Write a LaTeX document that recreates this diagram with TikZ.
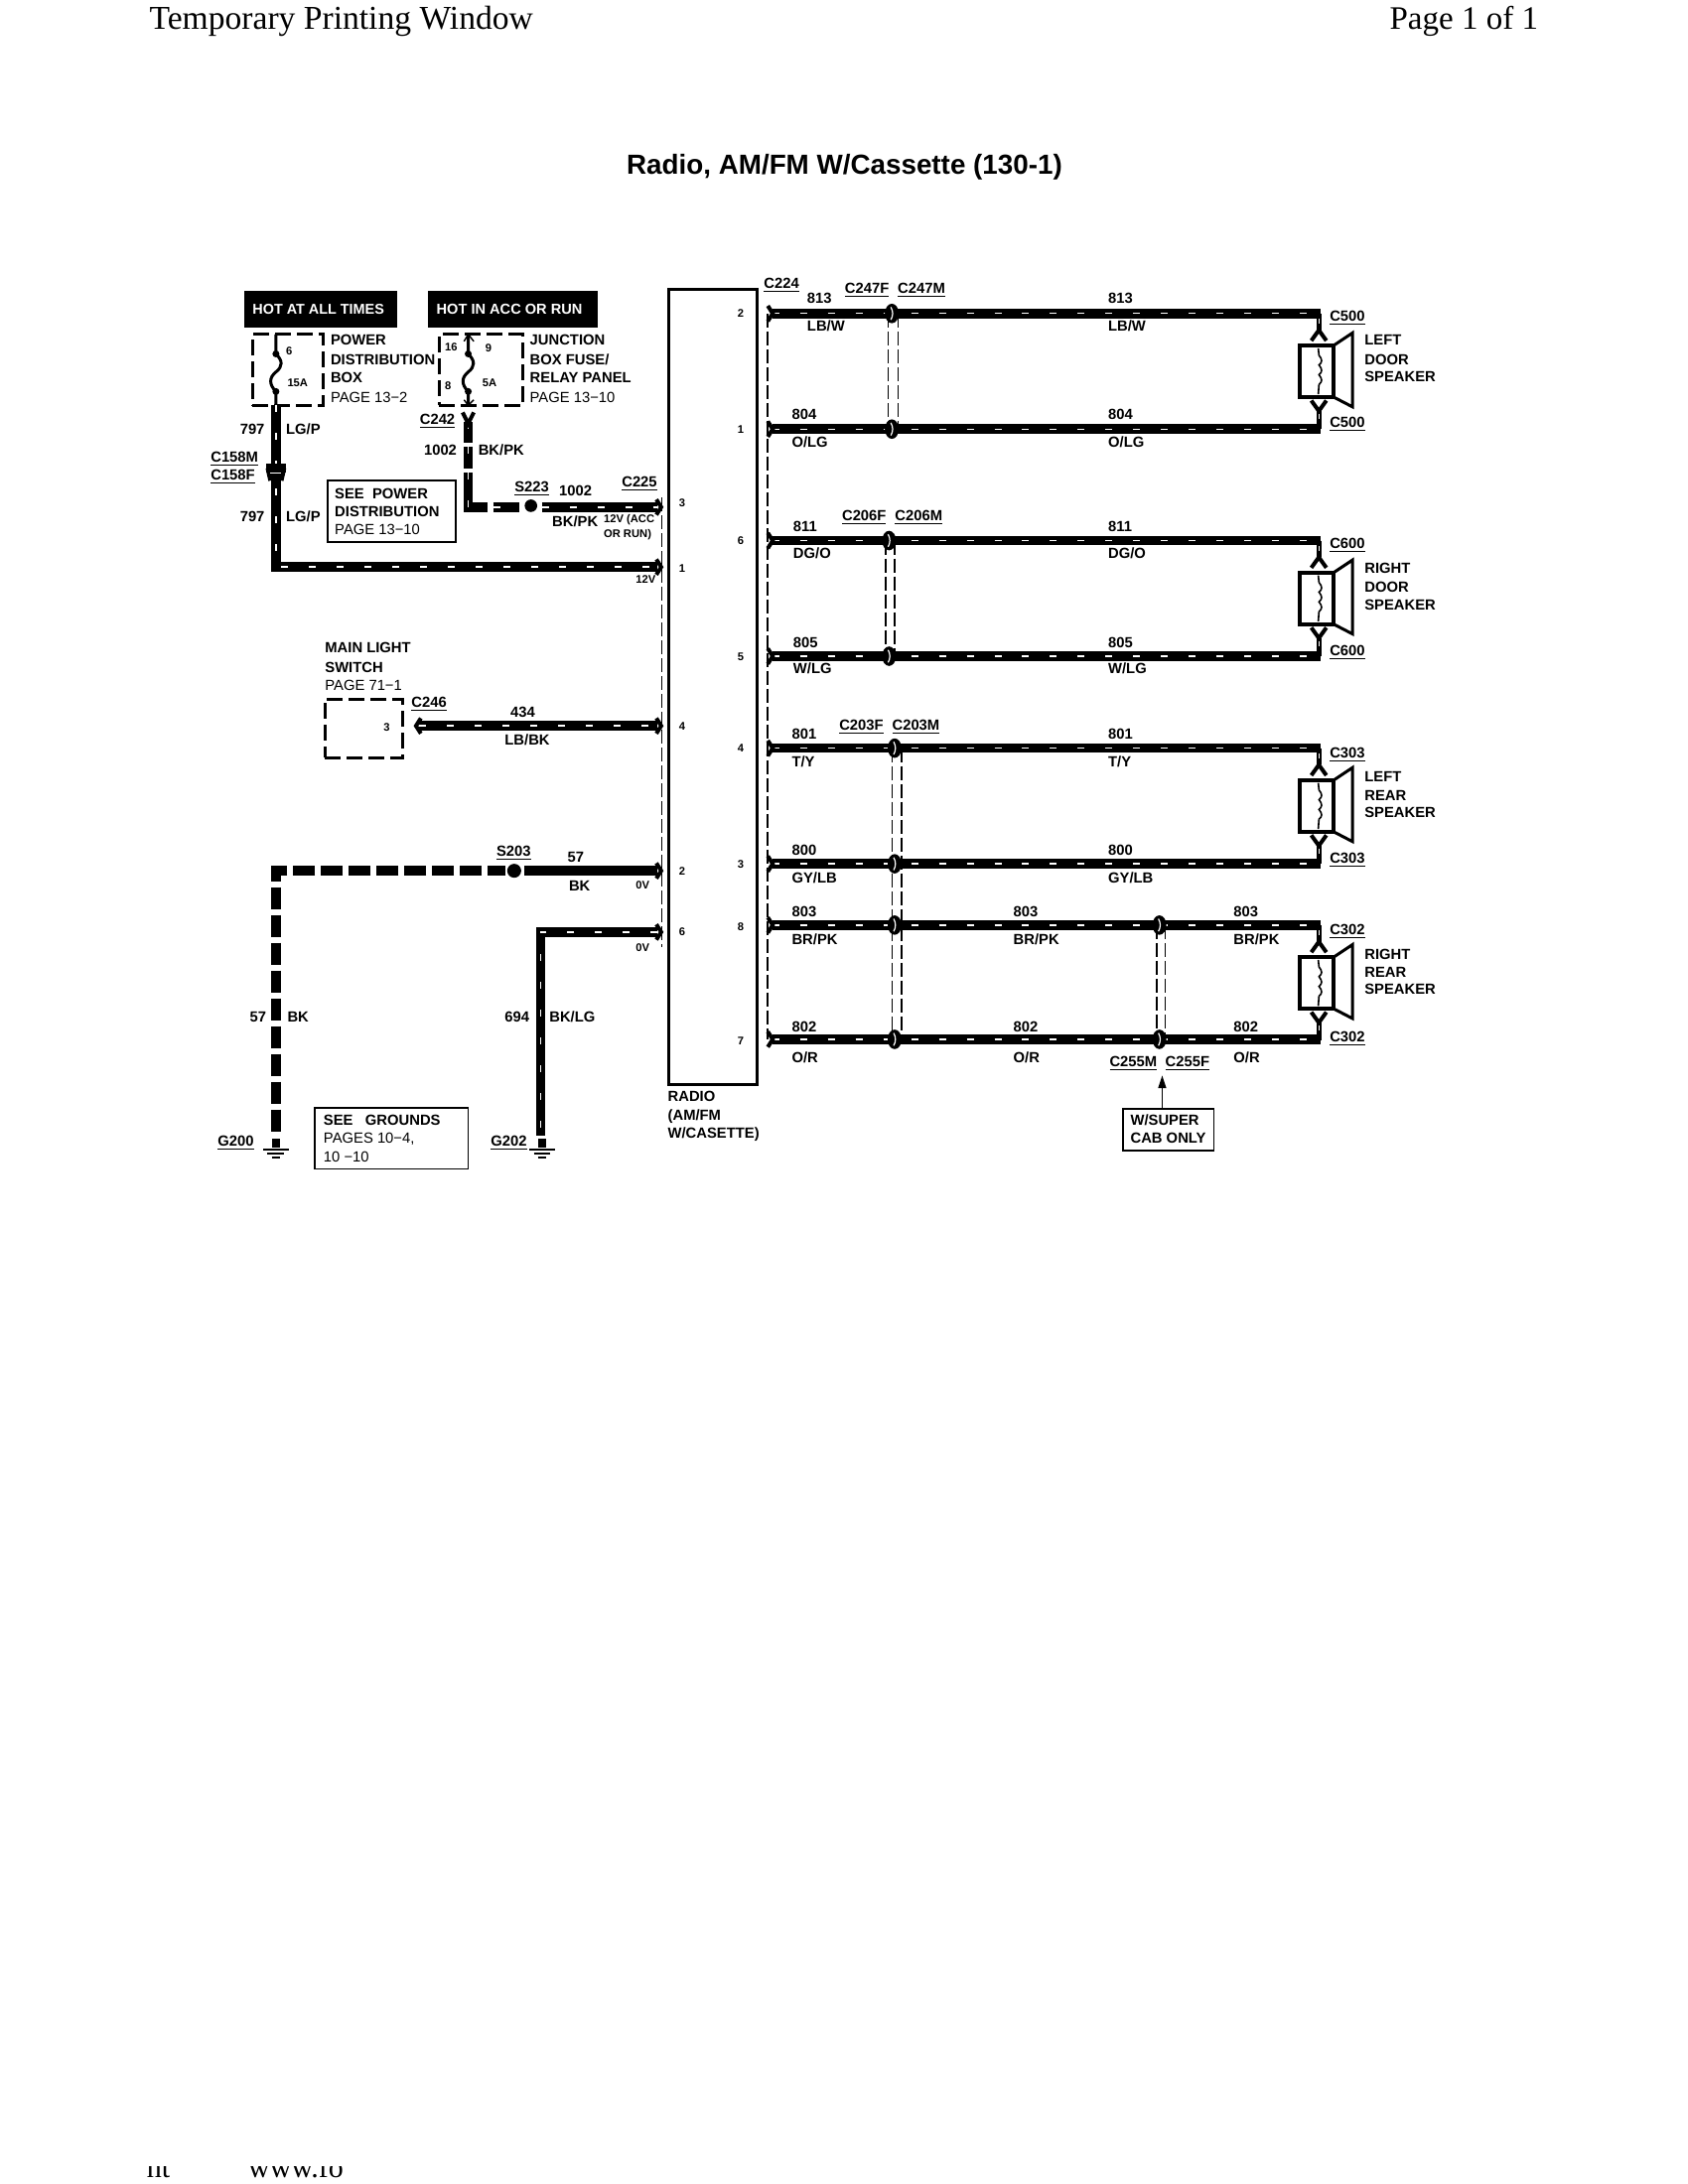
\documentclass[tikz,border=0pt]{standalone}
\usepackage{fontspec}
\setmainfont{Liberation Sans}
\newfontfamily\hdrfont{Liberation Serif}
\newcounter{lbl}
\def\ux{.70173pt}
\tikzset{
  labb/.style={inner sep=0pt,anchor=west,text height=5.3pt,text depth=0pt,font=\fontsize{7.4}{8}\selectfont\bfseries},
  labr/.style={inner sep=0pt,anchor=west,text height=5.3pt,text depth=0pt,font=\fontsize{7.4}{8}\selectfont},
  labs/.style={inner sep=0pt,anchor=west,text height=4pt,text depth=0pt,font=\fontsize{5.6}{6}\selectfont\bfseries},
  wire/.style={line width=4.8pt,black,line join=miter},
  gwire/.style={line width=4.8pt,black,line join=miter,dash pattern=on 11pt off 3pt,dash phase=2pt},
  tracer/.style={white,line width=.7pt,dash pattern=on 3.5pt off 10.5pt},
  thindash/.style={line width=.8pt,black,dash pattern=on 7pt off 2pt},
  boxdash/.style={line width=1.5pt,black,dash pattern=on 8pt off 3pt},
  thinbox/.style={draw,line width=.8pt,black,fill=white},
  hotbox/.style={fill=black,inner sep=0pt},
  thinw/.style={line width=1.5pt,black},
  forkl/.style={line width=2pt,black,line join=miter},
}
\newcommand{\LB}[3]{\stepcounter{lbl}\node[labb] (t\arabic{lbl}) at (#1,#2) {#3};}
\newcommand{\LR}[3]{\stepcounter{lbl}\node[labr] (t\arabic{lbl}) at (#1,#2) {#3};}
\newcommand{\LS}[3]{\stepcounter{lbl}\node[labs] (t\arabic{lbl}) at (#1,#2) {#3};}
\newcommand{\LU}[3]{\stepcounter{lbl}\node[labb] (t\arabic{lbl}) at (#1,#2) {\underline{#3}};}
\newcommand{\traced}[1]{\draw[wire] #1; \draw[tracer] #1;}
\newcommand{\wfork}[2]{\draw[forkl] (#1-2,#2-5.5) -- (#1+1.5,#2) -- (#1-2,#2+5.5);}
\newcommand{\wforkr}[2]{\draw[forkl] (#1+2,#2-5.5) -- (#1-1.5,#2) -- (#1+2,#2+5.5);}
\newcommand{\conn}[2]{\fill (#1,#2) ellipse (5 and 7);
  \draw[white,line width=.6pt] (#1-.7,#2-4.5) .. controls (#1+1,#2-1.5) and (#1+1,#2+1.5) .. (#1-.7,#2+4.5);}
\newcommand{\speaker}[1]{%
  \begin{scope}[shift={(0,#1)}]
    \draw[line width=2pt,black,line join=miter] (933,23) rectangle (957,60);
    \draw[line width=1.5pt,black,line join=miter] (957,23) -- (970.5,14) -- (970.5,67) -- (957,60);
    \draw[line width=.8pt,black] (946,25) -- (946.5,30) .. controls (949,33) and (949,35) .. (946.5,37)
      .. controls (949,40) and (949,42) .. (946.5,44) .. controls (949,47) and (949,49) .. (946.5,51) -- (946,58);
    \draw[forkl] (941,19.5) -- (946.4,12) -- (951.8,19.5);
    \draw[forkl] (941,62.5) -- (946.4,70) -- (951.8,62.5);
    \draw[line width=2.5pt,black] (946.4,0) -- (946.4,12);
    \draw[line width=2.5pt,black] (946.4,70) -- (946.4,83);
    \draw[white,line width=.6pt,dash pattern=on 2.5pt off 2pt] (946.4,4) -- (946.4,10);
    \draw[white,line width=.6pt,dash pattern=on 2.5pt off 2pt] (946.4,72) -- (946.4,78);
  \end{scope}}
\begin{document}
\begin{tikzpicture}[x=\ux,y=-\ux]
\useasboundingbox[fill=white] (0,0) rectangle (1211.3,1567.6);
% page header
\node[inner sep=0pt,anchor=west,font=\fontsize{16.8}{20}\selectfont\hdrfont] (hdrL) at (107,15) {Temporary Printing Window};
\node[inner sep=0pt,anchor=east,font=\fontsize{16.5}{20}\selectfont\hdrfont] (hdrR) at (1104,15) {Page 1 of 1};
\node[inner sep=0pt,font=\fontsize{13.9}{16}\selectfont\bfseries] (title) at (606,120) {Radio, AM/FM W/Cassette (130-1)};
% radio
\node[draw,line width=1.5pt,minimum width=63.4*\ux,minimum height=570.7*\ux,inner sep=0pt] (radio) at (511.6,493.1) {};
\LB{479}{787}{RADIO}\LB{479}{800}{(AM/FM}\LB{479}{813}{W/CASETTE)}
% radio pins
\LS{529}{225}{2}\LS{529}{308}{1}\LS{529}{388}{6}\LS{529}{471}{5}\LS{529}{537}{4}\LS{529}{620}{3}\LS{529}{665}{8}\LS{529}{747}{7}
\LS{487}{361}{3}\LS{487}{408}{1}\LS{487}{521}{4}\LS{487}{625}{2}\LS{487}{669}{6}
% hot boxes
\node[hotbox,minimum width=110*\ux,minimum height=26*\ux] (hot1) at (230,222) {};
\node[hotbox,minimum width=122*\ux,minimum height=26*\ux] (hot2) at (368,222) {};
\node[labb,text=white,font=\fontsize{7.2}{8}\selectfont\bfseries] (hot1t) at (181,222) {HOT AT ALL TIMES};
\node[labb,text=white,font=\fontsize{7.3}{8}\selectfont\bfseries] (hot2t) at (313,222) {HOT IN ACC OR RUN};
% power distribution box
\node[draw,boxdash,minimum width=51*\ux,minimum height=51*\ux,inner sep=0pt] (pdb) at (206.5,265.5) {};
\node[draw,boxdash,minimum width=60*\ux,minimum height=51*\ux,inner sep=0pt] (jbx) at (345,265.5) {};
\LB{237}{244}{POWER}\LB{237}{258}{DISTRIBUTION}\LB{237}{271}{BOX}\LR{237}{285}{PAGE 13−2}
\LB{380}{244}{JUNCTION}\LB{380}{258}{BOX FUSE/}\LB{380}{271}{RELAY PANEL}\LR{380}{285}{PAGE 13−10}
% fuses
\coordinate (f1a) at (198,240); \coordinate (f1b) at (198,254); \coordinate (f1c) at (198,281); \coordinate (f1d) at (198,291);
\draw[thinw] (f1a) -- (f1b) .. controls (203,259) and (203,263) .. (198,267) .. controls (193,271) and (193,276) .. (f1c) -- (f1d);
\fill (f1b) circle (2.5); \fill (f1c) circle (2.5);
\LS{205}{252}{6}\LS{206}{275}{15A}
\coordinate (f2a) at (336,240); \coordinate (f2b) at (336,254); \coordinate (f2c) at (336,281); \coordinate (f2d) at (336,291);
\draw[thinw] (f2a) -- (f2b) .. controls (341,259) and (341,263) .. (336,267) .. controls (331,271) and (331,276) .. (f2c) -- (f2d);
\fill (f2b) circle (2.5); \fill (f2c) circle (2.5);
\draw[line width=.7pt] (333,245) -- (336,240) -- (340,245);
\draw[line width=.7pt] (333,287) -- (336,291) -- (340,287);
\LS{319}{249}{16}\LS{348}{250}{9}\LS{319}{277}{8}\LS{346}{275}{5A}
% wire 797
\coordinate (w797a) at (198,291); \coordinate (w797b) at (198,407); \coordinate (w797c) at (472,407);
\traced{(w797a) -- (w797b) -- (w797c)}
\wfork{473}{407}
\fill (191,333) rectangle (205,339);
\draw[forkl] (192,336) -- (194,345); \draw[forkl] (204,336) -- (202,345);
\draw[white,line width=.8pt] (194,339.5) -- (202,339.5);
\LB{172}{308}{797}\LB{205}{308}{LG/P}\LB{172}{371}{797}\LB{205}{371}{LG/P}
\LU{151}{328}{C158M}\LU{151}{341}{C158F}
% wire 1002
\coordinate (w1a) at (336,303); \coordinate (w1b) at (336,317.5);
\coordinate (w2a) at (336,320.5); \coordinate (w2b) at (336,336);
\coordinate (w3a) at (336,339); \coordinate (w3b) at (336,364); \coordinate (w3c) at (350,364);
\coordinate (w4a) at (354,364); \coordinate (w4b) at (373,364);
\coordinate (w5a) at (389,364); \coordinate (w5b) at (472,364);
\traced{(w1a) -- (w1b)}\traced{(w2a) -- (w2b)}\traced{(w3a) -- (w3b) -- (w3c)}\traced{(w4a) -- (w4b)}\traced{(w5a) -- (w5b)}
\node[circle,fill=black,inner sep=0pt,minimum size=9*\ux] (s223) at (381,363) {};
\draw[forkl] (332,296) -- (336,304) -- (340,296);
\wfork{473}{364}
\LU{301}{301}{C242}\LB{304}{323}{1002}\LB{343}{323}{BK/PK}
\LU{369}{349}{S223}\LB{401}{352}{1002}\LU{446}{346}{C225}\LB{396}{374}{BK/PK}
\LS{433}{372}{12V (ACC}\LS{433}{383}{OR RUN)}\LS{456}{416}{12V}
% see power
\node[thinbox,minimum width=92*\ux,minimum height=44*\ux,inner sep=0pt] (seep) at (281,367) {};
\LB{240}{354}{SEE\ \ POWER}\LB{240}{367}{DISTRIBUTION}\LR{240}{380}{PAGE 13−10}
% radio left dashed bus
\coordinate (busa) at (475,357); \coordinate (busb) at (475,680);
\draw[thindash] (busa) -- (busb);
% main light switch
\LB{233}{465}{MAIN LIGHT}\LB{233}{479}{SWITCH}\LR{233}{492}{PAGE 71−1}
\node[draw,boxdash,minimum width=56*\ux,minimum height=42*\ux,inner sep=0pt] (mls) at (261,523) {};
\LS{275}{522}{3}
\coordinate (w434a) at (301,521); \coordinate (w434b) at (472,521);
\traced{(w434a) -- (w434b)}
\wforkr{300}{521}\wfork{473}{521}
\LU{295}{504}{C246}\LB{366}{511}{434}\LB{362}{531}{LB/BK}
% wire 57
\coordinate (g57a) at (472,625); \coordinate (g57b) at (376,625);
\coordinate (g57c) at (363,625); \coordinate (g57d) at (198,625); \coordinate (g57e) at (198,815);
\draw[wire] (g57a) -- (g57b);
\draw[gwire] (g57c) -- (g57d) -- (g57e);
\node[circle,fill=black,inner sep=0pt,minimum size=10*\ux] (s203) at (369,625) {};
\wfork{473}{625}
\LU{356}{611}{S203}\LB{407}{615}{57}\LB{408}{636}{BK}\LS{456}{635}{0V}
\LB{179}{730}{57}\LB{206}{730}{BK}
\LU{156}{819}{G200}
% wire 694
\coordinate (w694a) at (472,669); \coordinate (w694b) at (388,669); \coordinate (w694c) at (388,815);
\traced{(w694a) -- (w694b) -- (w694c)}
\wfork{473}{669}
\LS{456}{680}{0V}\LB{362}{730}{694}\LB{394}{730}{BK/LG}\LU{352}{819}{G202}
% grounds
\foreach \gx in {198,389}{
  \fill (\gx-3,817) rectangle (\gx+3,824);
  \draw[line width=.8pt] (\gx-9,825) -- (\gx+9,825);
  \draw[line width=.8pt] (\gx-6,828) -- (\gx+6,828);
  \draw[line width=.8pt] (\gx-3,831) -- (\gx+3,831);
}
\node[thinbox,minimum width=110*\ux,minimum height=44*\ux,inner sep=0pt] (seeg) at (281,817) {};
\LB{232}{804}{SEE\ \ \ GROUNDS}\LR{232}{817}{PAGES 10−4,}\LR{232}{830}{10 −10}
% right-side wires
\foreach \n/\y in {a/225,b/308,c/388,d/471,e/537,f/620,g/664,h/746}{
  \coordinate (l\n) at (554,\y); \coordinate (r\n) at (948,\y);
  \coordinate (p\n) at (551,\y);
  \traced{(l\n) -- (r\n)}
  \wfork{553}{\y}
}
\draw[thindash] (pa) -- (ph);
% double dashed cross links
\newcommand{\dlink}[4]{\draw[thindash,line width=.7pt] (#1,#3) -- (#1,#4); \draw[thindash,line width=.7pt] (#2,#3) -- (#2,#4);}
\dlink{637.5}{644.5}{225}{308}
\dlink{635.5}{642}{388}{471}
\dlink{640}{647}{537}{746}
\dlink{830}{836}{664}{746}
\conn{640}{225}\conn{640}{308}\conn{638}{388}\conn{638}{471}\conn{642}{537}\conn{642}{620}\conn{642}{664}\conn{642}{746}\conn{832}{664}\conn{832}{746}
% speakers
\speaker{225}\speaker{388}\speaker{537}\speaker{664}
% labels row 1
\LU{548}{203}{C224}\LB{579}{214}{813}\LU{606}{207}{C247F}\LU{644}{207}{C247M}\LB{795}{214}{813}
\LB{579}{234}{LB/W}\LB{795}{234}{LB/W}\LU{954}{227}{C500}
\LB{979}{244}{LEFT}\LB{979}{258}{DOOR}\LB{979}{270}{SPEAKER}
\LB{568}{297}{804}\LB{795}{297}{804}\LB{568}{317}{O/LG}\LB{795}{317}{O/LG}\LU{954}{303}{C500}
% row 2
\LB{569}{378}{811}\LU{604}{370}{C206F}\LU{642}{370}{C206M}\LB{795}{378}{811}
\LB{569}{397}{DG/O}\LB{795}{397}{DG/O}\LU{954}{390}{C600}
\LB{979}{408}{RIGHT}\LB{979}{421}{DOOR}\LB{979}{434}{SPEAKER}
\LB{569}{461}{805}\LB{795}{461}{805}\LB{569}{480}{W/LG}\LB{795}{480}{W/LG}\LU{954}{467}{C600}
% row 3
\LB{568}{527}{801}\LU{602}{520}{C203F}\LU{640}{520}{C203M}\LB{795}{527}{801}
\LB{568}{547}{T/Y}\LB{795}{547}{T/Y}\LU{954}{540}{C303}
\LB{979}{557}{LEFT}\LB{979}{571}{REAR}\LB{979}{583}{SPEAKER}
\LB{568}{610}{800}\LB{795}{610}{800}\LB{568}{630}{GY/LB}\LB{795}{630}{GY/LB}\LU{954}{616}{C303}
% row 4
\LB{568}{654}{803}\LB{727}{654}{803}\LB{885}{654}{803}
\LB{568}{674}{BR/PK}\LB{727}{674}{BR/PK}\LB{885}{674}{BR/PK}\LU{954}{667}{C302}
\LB{979}{685}{RIGHT}\LB{979}{698}{REAR}\LB{979}{710}{SPEAKER}
\LB{568}{737}{802}\LB{727}{737}{802}\LB{885}{737}{802}
\LB{568}{759}{O/R}\LB{727}{759}{O/R}\LB{885}{759}{O/R}\LU{954}{744}{C302}
\LU{796}{762}{C255M}\LU{836}{762}{C255F}
% super cab note
\node[thinbox,minimum width=65*\ux,minimum height=30*\ux,inner sep=0pt] (cab) at (838.5,811) {};
\LB{811}{804}{W/SUPER}\LB{811}{817}{CAB ONLY}
\coordinate (cabtop) at (834,796); \coordinate (cabtip) at (834,772);
\fill (cabtip) -- (831,781) -- (837,781) -- cycle;
\draw[line width=.8pt] (cabtop) -- (834,780);
% clipped footer fragments
\begin{scope}
\clip (100,1555) rectangle (1100,1567);
\node[inner sep=0pt,anchor=base west,font=\fontsize{15}{18}\selectfont\hdrfont] (foot1) at (105,1563) {ht};
\node[inner sep=0pt,anchor=base west,font=\fontsize{15}{18}\selectfont\hdrfont] (foot2) at (178,1563) {www.fo};
\end{scope}
\end{tikzpicture}
\end{document}
